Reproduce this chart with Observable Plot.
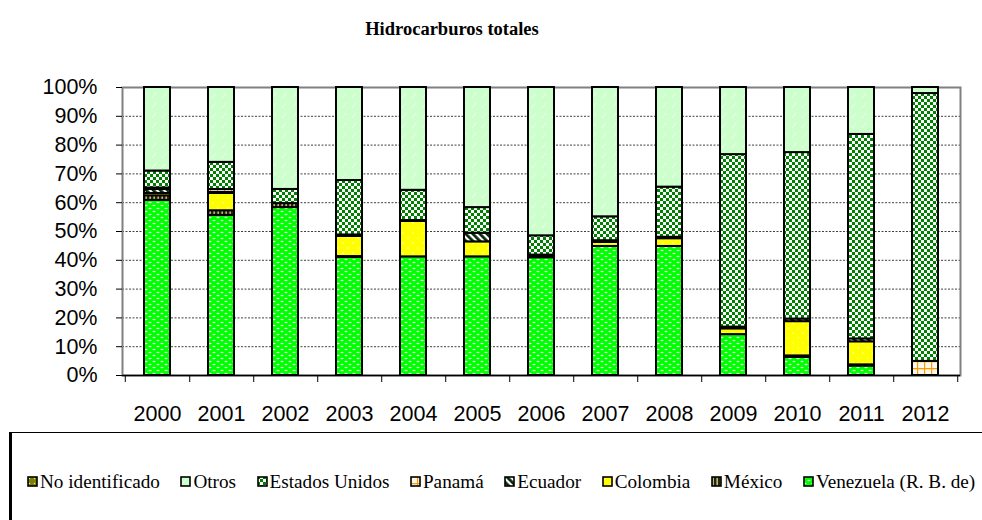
<!DOCTYPE html>
<html><head><meta charset="utf-8">
<script src="https://cdn.jsdelivr.net/npm/d3@7"></script>
<script src="https://cdn.jsdelivr.net/npm/@observablehq/plot@0.6"></script>
<style>
body{margin:0;width:982px;height:520px;overflow:hidden;background:#fff;position:relative;font-family:"Liberation Serif","Times New Roman",serif}
#title{position:absolute;top:19px;left:0;width:904px;text-align:center;font-weight:bold;font-size:18.5px;color:#000}
#chart{position:absolute;top:60px;left:0}
#legend{position:absolute;left:9px;top:432px;width:1000px;height:120px;border-top:1px solid #000;border-left:3px solid #000}
#legend .items{position:absolute;top:38px;left:15px;display:flex;white-space:nowrap;font-size:19.2px;line-height:21px;color:#000}
.item{display:flex;align-items:center;margin-right:20.5px}
.item svg{margin-right:2px}
#defs{position:absolute;width:0;height:0;left:0;top:0}
</style></head>
<body>
<svg id="defs" width="0" height="0">
<defs>
<pattern id="pven" width="8" height="6" patternUnits="userSpaceOnUse"><rect width="8" height="6" fill="#00ff00"/><ellipse cx="2" cy="1.5" rx="1.7" ry="0.8" fill="#fff" opacity=".85"/><ellipse cx="6" cy="4.5" rx="1.7" ry="0.8" fill="#fff" opacity=".85"/></pattern>
<pattern id="pmex" width="4" height="4" patternUnits="userSpaceOnUse"><rect width="4" height="4" fill="#262600"/><rect x="1.5" width="1.3" height="4" fill="#d8d8b0"/></pattern>
<pattern id="pcol" width="10" height="10" patternUnits="userSpaceOnUse"><rect width="10" height="10" fill="#ffff00"/><circle cx="3" cy="3" r=".8" fill="#ffffb8"/><circle cx="8" cy="8" r=".8" fill="#ffffb8"/></pattern>
<pattern id="pecu" width="5" height="5" patternUnits="userSpaceOnUse" patternTransform="rotate(-45)"><rect width="5" height="5" fill="#fff"/><rect width="2.8" height="5" fill="#0a2a0a"/></pattern>
<pattern id="ppan" width="7" height="7" patternUnits="userSpaceOnUse"><rect width="7" height="7" fill="#fff8ee"/><path d="M0,0.6H7M0.6,0V7" stroke="#ff9900" stroke-width="1.2"/></pattern>
<pattern id="peu" width="6" height="6" patternUnits="userSpaceOnUse"><rect width="6" height="6" fill="#fff"/><rect width="3" height="3" fill="#008000"/><rect x="3" y="3" width="3" height="3" fill="#008000"/></pattern>
<pattern id="potr" width="10" height="10" patternUnits="userSpaceOnUse"><rect width="10" height="10" fill="#ccffcc"/><path d="M2,8L6,3" stroke="#fff" stroke-width="1" opacity=".7"/></pattern>
<pattern id="pnoid" width="5" height="5" patternUnits="userSpaceOnUse"><rect width="5" height="5" fill="#808000"/><circle cx="2.5" cy="2.5" r=".7" fill="#e8e8c0"/></pattern>
</defs>
</svg>
<div id="title">Hidrocarburos totales</div>
<div id="chart"></div>
<div id="legend"><div class="items"></div></div>
<script>
const years = ["2000","2001","2002","2003","2004","2005","2006","2007","2008","2009","2010","2011","2012"];
const series = ["Venezuela (R. B. de)","México","Colombia","Ecuador","Panamá","Estados Unidos","Otros","No identificado"];
const legendOrder = ["No identificado","Otros","Estados Unidos","Panamá","Ecuador","Colombia","México","Venezuela (R. B. de)"];
const fills = ["url(#pven)","url(#pmex)","url(#pcol)","url(#pecu)","url(#ppan)","url(#peu)","url(#potr)","url(#pnoid)"];
const yTicks = [0,10,20,30,40,50,60,70,80,90,100];
const gridTicks = [10,20,30,40,50,60,70,80,90];

// percentage shares per year (2000..2012)
const venezuela     = [60.8, 55.6, 58.3, 41.0, 41.2, 41.2, 40.9, 44.8, 44.8, 14.2,  6.3,  3.3,  0.0];
const mexico        = [ 1.6,  1.6,  1.4,  0.3,  0.0,  0.0,  0.6,  0.0,  0.0,  0.0,  0.5,  0.4,  0.0];
const colombia      = [ 0.8,  6.0,  0.0,  7.0, 12.3,  5.2,  0.3,  1.4,  2.7,  2.0, 11.9,  8.0,  0.0];
const ecuador       = [ 1.4,  0.4,  0.0,  0.5,  0.3,  3.0,  0.0,  0.6,  0.5,  0.6,  0.9,  1.0,  0.0];
const panama        = [ 0.5,  1.0,  0.0,  0.0,  0.0,  0.0,  0.0,  0.0,  0.0,  0.0,  0.0,  0.0,  4.9];
const estadosUnidos = [ 5.9,  9.4,  4.9, 18.9, 10.5,  8.9,  6.7,  8.3, 17.4, 59.9, 57.8, 71.0, 93.0];
const otros         = [29.0, 26.0, 35.4, 32.3, 35.7, 41.7, 51.5, 44.9, 34.6, 23.3, 22.6, 16.3,  2.1];
const noIdentificado= [ 0.0,  0.0,  0.0,  0.0,  0.0,  0.0,  0.0,  0.0,  0.0,  0.0,  0.0,  0.0,  0.0];

const valuesBySeries = [venezuela, mexico, colombia, ecuador, panama, estadosUnidos, otros, noIdentificado];
const rows = [];
years.forEach((yr, i) => {
  series.forEach((s, j) => {
    const v = valuesBySeries[j][i];
    if (v > 0) rows.push({year: yr, series: s, value: v});
  });
});

const W = 982, ML = 122, MR = 22;
const step = (W - ML - MR) / years.length;

const chart = Plot.plot({
  width: W, height: 370,
  marginLeft: ML, marginRight: MR, marginTop: 27, marginBottom: 55,
  style: {fontFamily: "'Liberation Sans', Arial, sans-serif", fontSize: "21.5px", color: "#000", background: "transparent", overflow: "visible"},
  x: {domain: years, paddingInner: 0.6, paddingOuter: 0.3, axis: null},
  y: {domain: [0, 100], axis: null},
  color: {domain: series, range: fills},
  marks: [
    Plot.gridY(gridTicks, {stroke: "#000", strokeOpacity: 0.75, strokeDasharray: "2,1.5", strokeWidth: 1}),
    Plot.frame({stroke: "#808080", strokeWidth: 2}),
    Plot.barY(rows, Plot.stackY({x: "year", y: "value", fill: "series", stroke: "#000", strokeWidth: 2})),
    Plot.ruleY([0], {stroke: "#000", strokeWidth: 1.5}),
    Plot.axisY(yTicks, {label: null, tickSize: 6, tickPadding: 19, tickFormat: d => d + "%", fontSize: 21.5, stroke: "#000"}),
    Plot.axisX(years, {label: null, tickSize: 0, tickPadding: 30, fontSize: 21.5}),
    Plot.axisX(years, {label: null, tickSize: 7, dx: step / 2, tickFormat: () => "", stroke: "#000"}),
    Plot.axisX(["2000"], {label: null, tickSize: 7, dx: -step / 2, tickFormat: () => "", stroke: "#000"})
  ]
});
document.getElementById("chart").appendChild(chart);

const items = document.querySelector("#legend .items");
legendOrder.forEach(s => {
  const j = series.indexOf(s);
  const d = document.createElement("div");
  d.className = "item";
  d.innerHTML = `<svg width="11" height="11"><rect x="1" y="1" width="9" height="9" fill="${fills[j]}" stroke="#000" stroke-width="1.6"/></svg><span>${s}</span>`;
  items.appendChild(d);
});
</script>
</body></html>
